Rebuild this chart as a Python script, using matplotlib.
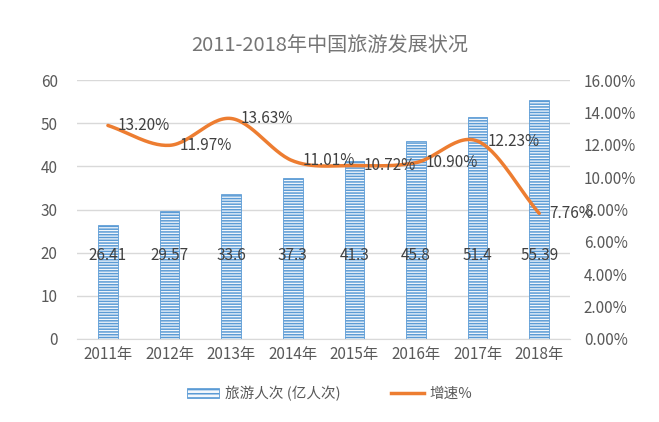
import numpy as np
import matplotlib
matplotlib.use("Agg")
import matplotlib.pyplot as plt
from matplotlib.patches import Patch
from matplotlib.lines import Line2D
from matplotlib.ticker import FuncFormatter, MultipleLocator

plt.rcParams['font.family'] = ['Noto Sans CJK SC', 'DejaVu Sans']
plt.rcParams['hatch.linewidth'] = 1.1

years = ['2011年', '2012年', '2013年', '2014年', '2015年', '2016年', '2017年', '2018年']
visitors = [26.41, 29.57, 33.6, 37.3, 41.3, 45.8, 51.4, 55.39]
visitor_labels = ['26.41', '29.57', '33.6', '37.3', '41.3', '45.8', '51.4', '55.39']
growth = [0.1320, 0.1197, 0.1363, 0.1101, 0.1072, 0.1090, 0.1223, 0.0776]
growth_labels = ['13.20%', '11.97%', '13.63%', '11.01%', '10.72%', '10.90%', '12.23%', '7.76%']

title = '2011-2018年中国旅游发展状况'
bar_name = '旅游人次 (亿人次)'
line_name = '增速%'

BLUE = '#5B9BD5'
ORANGE = '#ED7D31'
GRAY = '#595959'
GRID = '#D9D9D9'
HATCH = '------'
FACE = '#F4F8FC'

fig = plt.figure(figsize=(6.59, 4.22), dpi=100)
ax = fig.add_axes([0.117, 0.197, 0.748, 0.613])
ax2 = ax.twinx()

x = np.arange(len(years))
ax.bar(x, visitors, width=0.32, color=FACE, edgecolor=BLUE, hatch=HATCH,
       linewidth=0.6, zorder=2)
ax.set_ylim(0, 60)
ax.yaxis.set_major_locator(MultipleLocator(10))
ax.set_xlim(-0.5, len(years) - 0.5)
ax.set_xticks(x)
ax.set_xticklabels(years)
ax.grid(axis='y', color=GRID, linewidth=1, zorder=0)
ax.set_axisbelow(True)
for s in ['top', 'left', 'right']:
    ax.spines[s].set_visible(False)
ax.spines['bottom'].set_color(GRID)
ax.tick_params(axis='both', length=0, colors=GRAY, labelsize=11)
ax.tick_params(axis='y', pad=14)
ax.tick_params(axis='x', pad=5)

for xi, lab in zip(x, visitor_labels):
    ax.text(xi, 19.3, lab, ha='center', va='center', fontsize=11, color='#404040', zorder=5)

# smooth line (Catmull-Rom through data points)
def catmull(xs, ys, n=30):
    xs = np.asarray(xs, float); ys = np.asarray(ys, float)
    px = np.concatenate([[2 * xs[0] - xs[1]], xs, [2 * xs[-1] - xs[-2]]])
    py = np.concatenate([[2 * ys[0] - ys[1]], ys, [2 * ys[-1] - ys[-2]]])
    ox, oy = [], []
    for i in range(1, len(px) - 2):
        t = np.linspace(0, 1, n, endpoint=False)
        for arr, out in ((px, ox), (py, oy)):
            p0, p1, p2, p3 = arr[i - 1], arr[i], arr[i + 1], arr[i + 2]
            out.extend(0.5 * ((2 * p1) + (-p0 + p2) * t + (2 * p0 - 5 * p1 + 4 * p2 - p3) * t ** 2
                              + (-p0 + 3 * p1 - 3 * p2 + p3) * t ** 3))
    ox.append(xs[-1]); oy.append(ys[-1])
    return np.array(ox), np.array(oy)

sx, sy = catmull(x, growth)
ax2.plot(sx, sy, color=ORANGE, linewidth=2.5, solid_capstyle='round', zorder=3)
ax2.set_ylim(0, 0.16)
ax2.yaxis.set_major_locator(MultipleLocator(0.02))
ax2.yaxis.set_major_formatter(FuncFormatter(lambda v, p: f'{v*100:.2f}%'))
for s in ['top', 'left', 'right', 'bottom']:
    ax2.spines[s].set_visible(False)
ax2.tick_params(axis='y', length=0, colors=GRAY, labelsize=11, pad=10)

for xi, g, lab in zip(x, growth, growth_labels):
    ax2.annotate(lab, (xi, g), xytext=(7, 0), textcoords='offset points',
                 ha='left', va='center', fontsize=11, color='#404040', zorder=5)

fig.text(0.5, 0.893, title, ha='center', va='center', fontsize=14.5, color='#757575')

handles = [Patch(facecolor=FACE, edgecolor=BLUE, hatch='----', linewidth=0.6),
           Line2D([0], [0], color=ORANGE, linewidth=2.5)]
fig.legend(handles, [bar_name, line_name], loc='center', bbox_to_anchor=(0.5, 0.068),
           ncol=2, frameon=False, fontsize=10.5, labelcolor=GRAY, handlelength=2.2,
           handletextpad=0.4, columnspacing=3.5)

fig.savefig('out.png', dpi=100)
